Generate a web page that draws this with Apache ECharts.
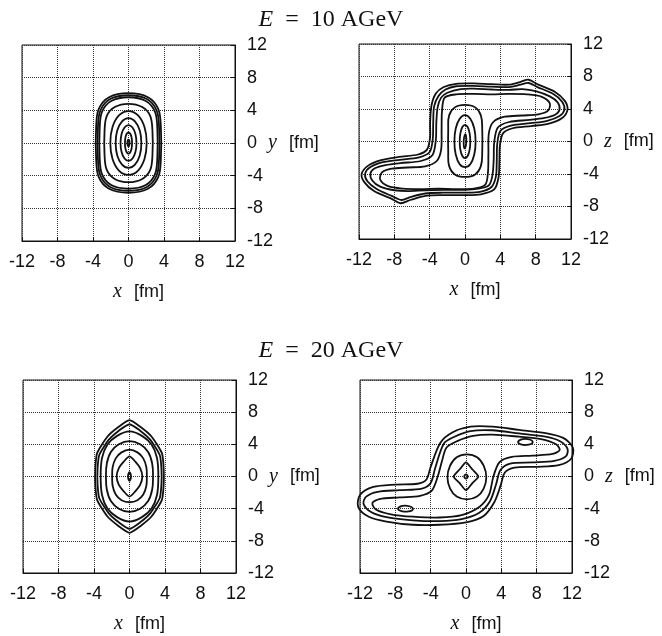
<!DOCTYPE html>
<html>
<head>
<meta charset="utf-8">
<script src="https://cdn.jsdelivr.net/npm/echarts@6.0.0/dist/echarts.min.js"></script>
<style>
  html, body { margin: 0; padding: 0; background: #fff; }
  #main { width: 662px; height: 636px; }
</style>
</head>
<body>
<div id="main"></div>
<script>
// axis range and tick step, same for every panel
const axisMin = -12;
const axisMax = 12;
const tickStep = 4;

const titles = ['10', '20'];
const vertNames = ['y', 'z', 'y', 'z'];

// E = 10 AGeV, x-y plane: nested rings, outer ones boxy
const xy10 = [
  [[0,6.1],[2.19,5.61],[3.36,4.15],[3.65,1.83],[3.65,-1.83],[3.36,-4.15],[2.19,-5.61],[0,-6.1],[-2.19,-5.61],[-3.36,-4.15],[-3.65,-1.83],[-3.65,1.83],[-3.36,4.15],[-2.19,5.61]],
  [[0,5.85],[2.07,5.38],[3.17,3.98],[3.45,1.76],[3.45,-1.76],[3.17,-3.98],[2.07,-5.38],[0,-5.85],[-2.07,-5.38],[-3.17,-3.98],[-3.45,-1.76],[-3.45,1.76],[-3.17,3.98],[-2.07,5.38]],
  [[0,5.6],[1.95,5.15],[2.99,3.81],[3.25,1.68],[3.25,-1.68],[2.99,-3.81],[1.95,-5.15],[0,-5.6],[-1.95,-5.15],[-2.99,-3.81],[-3.25,-1.68],[-3.25,1.68],[-2.99,3.81],[-1.95,5.15]],
  [[0,4.8],[1.55,4.4],[2.45,3.3],[2.7,1.45],[2.7,-1.45],[2.45,-3.3],[1.55,-4.4],[0,-4.8],[-1.55,-4.4],[-2.45,-3.3],[-2.7,-1.45],[-2.7,1.45],[-2.45,3.3],[-1.55,4.4]],
  [[0,3.9],[1.05,3.4],[1.8,1.95],[2.05,0],[1.8,-1.95],[1.05,-3.4],[0,-3.9],[-1.05,-3.4],[-1.8,-1.95],[-2.05,0],[-1.8,1.95],[-1.05,3.4]],
  [[0,3.05],[0.73,2.65],[1.27,1.52],[1.45,0],[1.27,-1.52],[0.73,-2.65],[0,-3.05],[-0.73,-2.65],[-1.27,-1.52],[-1.45,0],[-1.27,1.52],[-0.73,2.65]],
  [[0,2.2],[0.45,1.9],[0.78,1.1],[0.9,0],[0.78,-1.1],[0.45,-1.9],[0,-2.2],[-0.45,-1.9],[-0.78,-1.1],[-0.9,0],[-0.78,1.1],[-0.45,1.9]],
  [[0,1.3],[0.2,1.13],[0.35,0.65],[0.4,0],[0.35,-0.65],[0.2,-1.13],[0,-1.3],[-0.2,-1.13],[-0.35,-0.65],[-0.4,0],[-0.35,0.65],[-0.2,1.13]],
  [[0,0.4],[0.12,0],[0,-0.4],[-0.12,0]]
];

// E = 10 AGeV, x-z plane: S-shaped outer levels, ellipses in the middle
const xz10 = [
  [[-2.4,6.7],[-1,7.1],[1,7.15],[3,7.05],[5,7.0],[6.3,7.35],[7.2,7.6],[8.3,7.0],[10.2,6.1],[11.3,5.0],[11.6,3.9],[11.0,2.9],[9.5,2.2],[7.5,1.9],[5.3,1.6],[4.3,1.0],[3.95,-0.5],[3.9,-2.2],[3.8,-4.4],[3.3,-5.9],[1.8,-6.5],[0,-6.6],[-2.5,-6.6],[-4.5,-6.7],[-6.2,-7.2],[-7.3,-7.6],[-8.4,-7.0],[-10.3,-6.1],[-11.4,-5.0],[-11.7,-4.0],[-11.0,-3.0],[-9.5,-2.3],[-7.5,-1.9],[-5.3,-1.6],[-4.3,-1.0],[-3.95,0.5],[-3.95,2.2],[-3.8,4.4],[-3.3,5.9]],
  [[-2.2,6.4],[-1,6.8],[1,6.85],[3,6.75],[5,6.7],[6.3,7.0],[7.2,7.2],[8.2,6.7],[10,5.85],[11.0,4.9],[11.25,3.9],[10.7,3.15],[9.3,2.55],[7.4,2.25],[5.2,1.95],[4.0,1.3],[3.65,-0.3],[3.6,-2.2],[3.5,-4.3],[3.0,-5.6],[1.7,-6.2],[0,-6.3],[-2.5,-6.3],[-4.5,-6.4],[-6.2,-6.85],[-7.2,-7.2],[-8.3,-6.7],[-10,-5.85],[-11.05,-4.9],[-11.3,-3.95],[-10.7,-3.15],[-9.3,-2.55],[-7.4,-2.25],[-5.2,-1.95],[-4.0,-1.3],[-3.65,0.3],[-3.6,2.2],[-3.5,4.3],[-3.0,5.6]],
  [[-2.0,6.0],[-0.5,6.45],[1,6.5],[3,6.4],[5,6.35],[6.5,6.45],[8,6.2],[9.6,5.55],[10.5,4.8],[10.7,3.9],[10.2,3.3],[9,2.9],[7.3,2.65],[5.0,2.4],[3.7,1.7],[3.3,-0.2],[3.25,-2.2],[3.1,-4.2],[2.7,-5.4],[1.5,-5.8],[0,-5.95],[-2.5,-5.95],[-4.5,-6.0],[-6.5,-6.1],[-8,-6.0],[-9.6,-5.55],[-10.5,-4.8],[-10.7,-3.9],[-10.2,-3.3],[-9,-2.9],[-7.3,-2.65],[-5,-2.4],[-3.7,-1.7],[-3.3,0.2],[-3.25,2.2],[-3.1,4.2],[-2.7,5.4]],
  [[-2.3,5.4],[-1,5.8],[1,5.85],[3,5.8],[5,5.85],[7,5.8],[8.7,5.5],[9.6,4.7],[9.4,3.8],[8.3,3.35],[6.5,3.2],[4.5,3.05],[3.2,2.4],[2.7,1],[2.65,-1.5],[2.6,-3.8],[2.3,-5.3],[1,-5.8],[-1,-5.85],[-3,-5.8],[-5,-5.85],[-7,-5.8],[-8.7,-5.5],[-9.6,-4.7],[-9.4,-3.8],[-8.3,-3.35],[-6.5,-3.2],[-4.5,-3.05],[-3.2,-2.4],[-2.7,-1],[-2.65,1.5],[-2.6,3.8]],
  [[0,4.5],[1.15,4.2],[1.8,3.2],[1.95,1.5],[1.95,-1.3],[1.8,-3.0],[1.15,-4.05],[0,-4.35],[-1.15,-4.05],[-1.8,-3.0],[-1.9,-1.3],[-1.9,1.5],[-1.8,3.2],[-1.15,4.2]],
  [[0,3.25],[0.6,2.8],[1.05,1.6],[1.2,0],[1.05,-1.6],[0.6,-2.8],[0,-3.15],[-0.6,-2.8],[-1.05,-1.6],[-1.2,0],[-1.05,1.6],[-0.6,2.8]],
  [[0,2.05],[0.3,1.78],[0.52,1.02],[0.6,0],[0.52,-1.02],[0.3,-1.78],[0,-2.05],[-0.3,-1.78],[-0.52,-1.02],[-0.6,0],[-0.52,1.02],[-0.3,1.78]],
  [[0.05,0.9],[0.15,0.3],[0.1,-0.5],[-0.05,-0.85],[-0.15,-0.3],[-0.1,0.5]]
];

// E = 20 AGeV, x-y plane: pointed (hexagon-like) rings
const xy20 = [
  [[0,7.0],[1.25,6.15],[2.5,4.95],[3.65,2.9],[3.85,1.0],[3.85,-1.0],[3.65,-2.9],[2.5,-4.95],[1.25,-6.15],[0,-7.0],[-1.25,-6.15],[-2.5,-4.95],[-3.65,-2.9],[-3.85,-1.0],[-3.85,1.0],[-3.65,2.9],[-2.5,4.95],[-1.25,6.15]],
  [[0,6.5],[1.2,5.7],[2.35,4.55],[3.4,2.7],[3.6,0.95],[3.6,-0.95],[3.4,-2.7],[2.35,-4.55],[1.2,-5.7],[0,-6.5],[-1.2,-5.7],[-2.35,-4.55],[-3.4,-2.7],[-3.6,-0.95],[-3.6,0.95],[-3.4,2.7],[-2.35,4.55],[-1.2,5.7]],
  [[0,5.6],[1.4,5.05],[2.5,3.95],[3.1,2.3],[3.25,0],[3.1,-2.3],[2.5,-3.95],[1.4,-5.05],[0,-5.6],[-1.4,-5.05],[-2.5,-3.95],[-3.1,-2.3],[-3.25,0],[-3.1,2.3],[-2.5,3.95],[-1.4,5.05]],
  [[0,4.4],[1.2,4.0],[2.1,3.05],[2.55,1.65],[2.65,0],[2.55,-1.65],[2.1,-3.05],[1.2,-4.0],[0,-4.4],[-1.2,-4.0],[-2.1,-3.05],[-2.55,-1.65],[-2.65,0],[-2.55,1.65],[-2.1,3.05],[-1.2,4.0]],
  [[0,3.35],[0.9,3.0],[1.55,2.25],[1.9,1.15],[1.95,0],[1.9,-1.15],[1.55,-2.25],[0.9,-2.95],[0,-3.2],[-0.9,-2.95],[-1.55,-2.25],[-1.9,-1.15],[-1.95,0],[-1.9,1.15],[-1.55,2.25],[-0.9,3.0]],
  [[0,2.5],[0.65,1.85],[1.2,1.05],[1.45,0],[1.2,-1.05],[0.65,-1.85],[0,-2.5],[-0.65,-1.85],[-1.2,-1.05],[-1.45,0],[-1.2,1.05],[-0.65,1.85]],
  [[0,0.55],[0.17,0],[0,-0.55],[-0.17,0]]
];

// E = 20 AGeV, x-z plane: three S levels, ring, diamond, two islands
const xz20 = [
  [[-2.9,4.2],[-1.5,5.5],[0.5,6.2],[3,6.2],[6,5.8],[9,5.4],[11,4.8],[12.1,3.6],[11.9,2.2],[10.5,1.4],[8,1.2],[5.5,1.1],[4.4,0.5],[3.9,-1.2],[3.2,-3.2],[2.0,-4.9],[0,-5.7],[-3,-6.0],[-6,-6.0],[-9,-5.6],[-11,-5.0],[-12.2,-3.8],[-12.0,-2.3],[-10.5,-1.3],[-8,-1.0],[-5.5,-0.9],[-4.5,-0.4],[-4.0,1.2]],
  [[-2.5,4.1],[-1.3,4.95],[0.5,5.65],[3,5.75],[6,5.35],[9,4.95],[10.7,4.35],[11.5,3.4],[11.3,2.5],[10,1.95],[7.5,1.75],[5.0,1.6],[3.9,0.8],[3.4,-1.0],[2.7,-3.1],[1.5,-4.5],[-0.5,-5.3],[-3,-5.55],[-6,-5.45],[-9,-5.05],[-10.7,-4.45],[-11.6,-3.4],[-11.3,-2.5],[-10,-1.9],[-7.5,-1.7],[-5,-1.5],[-4.0,-0.8],[-3.5,1.0]],
  [[-2.2,3.6],[-1.0,4.4],[0.8,5.05],[3,5.2],[6,4.95],[8.5,4.65],[10.2,4.0],[10.6,3.3],[9.8,2.8],[7.5,2.6],[5.2,2.45],[3.8,1.8],[3.1,0],[2.6,-2.3],[1.5,-3.8],[-0.5,-4.8],[-3,-5.1],[-6,-5.0],[-8.5,-4.7],[-10.2,-4.1],[-10.6,-3.3],[-9.8,-2.8],[-7.5,-2.6],[-5.2,-2.4],[-3.9,-1.8],[-3.2,0],[-2.7,2.0]],
  [[0.1,2.75],[1.25,2.4],[2.0,1.35],[2.3,-0.1],[2.0,-1.5],[1.25,-2.5],[0.1,-2.85],[-1.05,-2.5],[-1.8,-1.5],[-2.1,-0.1],[-1.8,1.35],[-1.05,2.4]],
  [[0,1.75],[0.7,0.9],[1.4,0],[0.7,-0.85],[0,-1.7],[-0.7,-0.85],[-1.4,0],[-0.7,0.9]],
  [[0,0.25],[0.2,0],[0,-0.25],[-0.2,0]],
  [[5.9,4.3],[6.4,4.65],[7.2,4.6],[7.55,4.25],[7.1,3.95],[6.3,3.95]],
  [[-7.7,-4.0],[-7.2,-3.65],[-6.4,-3.7],[-6.0,-4.05],[-6.5,-4.35],[-7.3,-4.3]]
];

const panels = [xy10, xz10, xy20, xz20];
// how round each level's corners are drawn (per panel, per level)
const roundness = [
  [0.35, 0.35, 0.35, 0.35, 0.4, 0.4, 0.4, 0.4, 0.4],
  [0.3, 0.3, 0.3, 0.3, 0.4, 0.4, 0.4, 0.4],
  [0.2, 0.2, 0.35, 0.4, 0.4, 0.25, 0.4],
  [0.3, 0.3, 0.3, 0.4, 0.2, 0.4, 0.4, 0.4]
];

const grids = [
  { left: 22, top: 45, width: 213, height: 196 },
  { left: 359, top: 44, width: 212, height: 195 },
  { left: 23, top: 380, width: 213, height: 193 },
  { left: 360, top: 380, width: 212, height: 193 }
];

const ink = '#111';
const sans = 'Liberation Sans';
const serif = 'Liberation Serif';

const nameRich = {
  i: { fontFamily: serif, fontStyle: 'italic', fontSize: 20, color: ink },
  n: { fontFamily: sans, fontSize: 18, color: ink, padding: [0, 0, 0, 12] }
};

function axisCommon(i) {
  return {
    gridIndex: i,
    type: 'value',
    min: axisMin,
    max: axisMax,
    interval: tickStep,
    axisLine: { show: true, onZero: false, lineStyle: { color: ink, width: 1 } },
    axisTick: { show: true, inside: true, length: 4, lineStyle: { color: ink } },
    axisLabel: { color: ink, fontSize: 18, fontFamily: sans, margin: 12 },
    splitLine: { show: true, lineStyle: { type: 'dotted', color: '#333', width: 1 } },
    nameMoveOverlap: false
  };
}

const xAxes = grids.map(function (g, i) {
  return Object.assign(axisCommon(i), {
    position: 'bottom',
    name: '{i|x}{n|[fm]}',
    nameLocation: 'middle',
    nameGap: 41,
    nameTextStyle: { rich: nameRich, padding: [0, 0, 0, 20] }
  });
});

const yAxes = grids.map(function (g, i) {
  return Object.assign(axisCommon(i), {
    position: 'right',
    name: '{i|' + vertNames[i] + '}{n|[fm]}',
    nameLocation: 'middle',
    nameRotate: 0,
    nameGap: 33,
    nameTextStyle: { rich: nameRich }
  });
});

function contourSeries(panel, pts, smooth) {
  return {
    type: 'custom',
    xAxisIndex: panel,
    yAxisIndex: panel,
    silent: true,
    animation: false,
    data: pts,
    renderItem: function (params, api) {
      if (params.dataIndex !== 0) return null;
      return {
        type: 'polygon',
        shape: { points: pts.map(function (p) { return api.coord(p); }), smooth: smooth },
        style: { fill: 'none', stroke: ink, lineWidth: 1.8 }
      };
    }
  };
}

const series = [];
panels.forEach(function (levels, p) {
  levels.forEach(function (pts, k) {
    series.push(contourSeries(p, pts, roundness[p][k]));
  });
});

const titleRich = {
  i: { fontFamily: serif, fontStyle: 'italic', fontWeight: 'normal', fontSize: 24, color: ink },
  r: { fontFamily: serif, fontWeight: 'normal', fontSize: 24, color: ink }
};

const chart = echarts.init(document.getElementById('main'));
chart.setOption({
  backgroundColor: '#fff',
  animation: false,
  title: [
    { text: '{i|E}{r|  =  ' + titles[0] + ' AGeV}', left: 'center', top: 3, textStyle: { fontWeight: 'normal', rich: titleRich } },
    { text: '{i|E}{r|  =  ' + titles[1] + ' AGeV}', left: 'center', top: 334, textStyle: { fontWeight: 'normal', rich: titleRich } }
  ],
  grid: grids.map(function (g) {
    return Object.assign({ show: true, borderColor: ink, borderWidth: 1, outerBoundsMode: 'none' }, g);
  }),
  xAxis: xAxes,
  yAxis: yAxes,
  series: series
});
</script>
</body>
</html>
